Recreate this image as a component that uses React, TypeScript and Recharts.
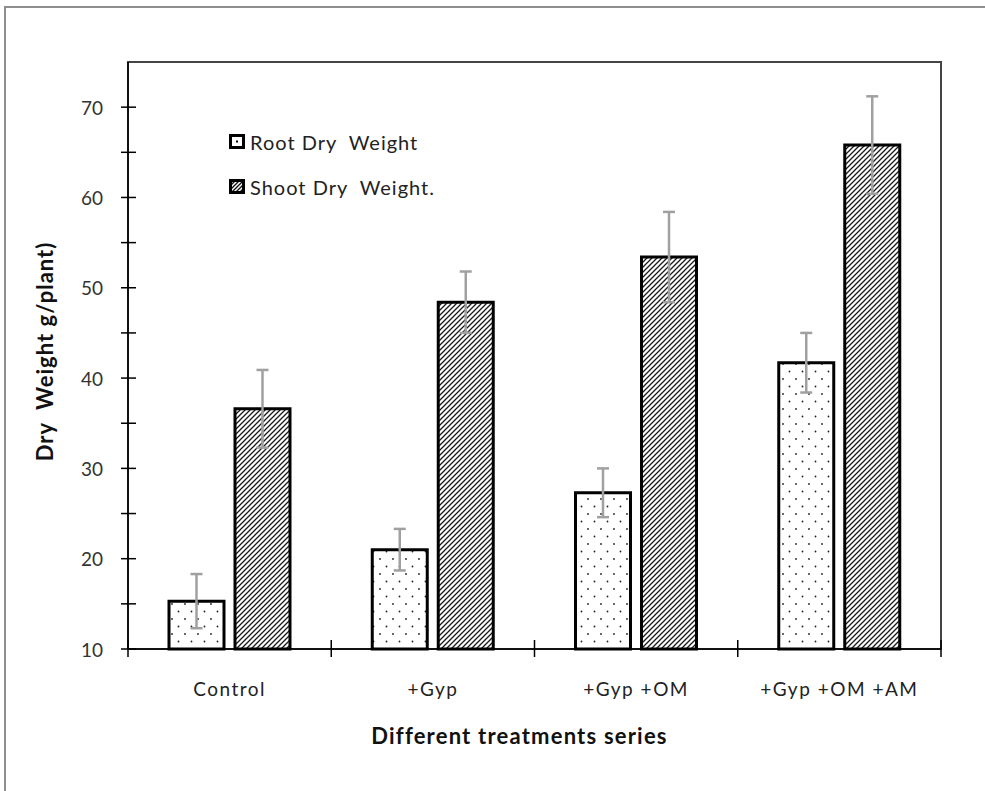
import React from 'react';
import { BarChart, Bar, XAxis, YAxis, ErrorBar, Legend, ReferenceArea, Label } from 'recharts';

const categories = ['Control', '+Gyp', '+Gyp +OM', '+Gyp +OM +AM'];
const rootDryWeight = [15.3, 21.0, 27.3, 41.7];
const rootError = [3.0, 2.3, 2.7, 3.3];
const shootDryWeight = [36.6, 48.4, 53.4, 65.8];
const shootError = [4.3, 3.4, 5.0, 5.4];
const yTicks = [10, 15, 20, 25, 30, 35, 40, 45, 50, 55, 60, 65, 70];

const data = categories.map((category, i) => ({
  category,
  root: rootDryWeight[i],
  rootErr: rootError[i],
  shoot: shootDryWeight[i],
  shootErr: shootError[i],
}));

const FONT = 'Lato, "Open Sans", sans-serif';
const Y_TICK_MARGIN = 25;
const X_TICK_MARGIN = 34;

const LegendBox = ({ kind }: { kind: string }) => (
  <svg width={16} height={15} style={{ display: 'block' }}>
    <rect x={1.5} y={1.5} width={13} height={12} fill={kind === 'shoot' ? 'url(#hatchLegend)' : '#fff'} stroke="#000" strokeWidth={3} />
    {kind === 'root' && <rect x={7} y={6.5} width={2} height={2} fill="#000" />}
  </svg>
);

const renderLegend = (props: any) => {
  const payload = props.payload || [];
  return (
    <div style={{ fontFamily: FONT }}>
      {payload.map((p: any, i: number) => (
        <div key={i} style={{ display: 'flex', alignItems: 'center', height: 45 }}>
          <LegendBox kind={p.dataKey} />
          <span style={{ marginLeft: 5, fontSize: 20, letterSpacing: 1, color: '#222', whiteSpace: 'pre' }}>{p.value}</span>
        </div>
      ))}
    </div>
  );
};

const YTick = (p: any) => {
  const v = p.payload?.value;
  const ax = p.x + Y_TICK_MARGIN;
  return (
    <g>
      <line x1={ax - 7} x2={ax + 8} y1={p.y} y2={p.y} stroke="#000" strokeWidth={1.5} />
      {v % 10 === 0 && (
        <text x={p.x} y={p.y} textAnchor="end" dominantBaseline="central"
          style={{ fill: '#333', fontSize: 19, fontFamily: FONT }}>{v}</text>
      )}
    </g>
  );
};

const XTick = (p: any) => {
  const half = p.payload?.offset || 0;
  const ay = p.y - X_TICK_MARGIN;
  const isLast = p.index === (p.visibleTicksCount || categories.length) - 1;
  return (
    <g>
      <line x1={p.x - half} x2={p.x - half} y1={ay - 9} y2={ay + 8} stroke="#000" strokeWidth={1.5} />
      {isLast && <line x1={p.x + half} x2={p.x + half} y1={ay - 9} y2={ay + 8} stroke="#000" strokeWidth={1.5} />}
      <text x={p.x} y={p.y} textAnchor="middle" dy="0.71em"
        style={{ fill: '#222', fontSize: 19, fontFamily: FONT, letterSpacing: 1.5 }}>{p.payload?.value}</text>
    </g>
  );
};

const YTitle = (props: any) => {
  const vb = props.viewBox;
  const x = vb.x - 24;
  const y = vb.y + vb.height / 2 - 4;
  return (
    <text x={x} y={y} transform={`rotate(-90, ${x}, ${y})`} textAnchor="middle" dominantBaseline="central"
      style={{ fontFamily: FONT, fontWeight: 700, fontSize: 22, letterSpacing: 1, fill: '#111', whiteSpace: 'pre' }}>
      {'Dry  Weight g/plant)'}
    </text>
  );
};

const XTitle = (props: any) => {
  const vb = props.viewBox;
  const x = vb.x + vb.width / 2 - 15;
  const y = vb.y + 86;
  return (
    <text x={x} y={y} textAnchor="middle" dominantBaseline="central"
      style={{ fontFamily: FONT, fontWeight: 700, fontSize: 22, letterSpacing: 1.2, fill: '#111' }}>
      Different treatments series
    </text>
  );
};

export default function App() {
  return (
    <div style={{ position: 'fixed', left: 0, top: 0, width: 985, height: 791, overflow: 'hidden', background: '#fff' }}>
      <div style={{ position: 'absolute', left: 4, top: 6, width: 1200, height: 1000, borderTop: '2px solid #8e8e8e', borderLeft: '2px solid #8e8e8e' }} />
      <div style={{ position: 'absolute', left: 0, top: 0 }}>
        <BarChart width={985} height={791} data={data} margin={{ top: 62, right: 44, bottom: 102, left: 68 }} barGap={11} barSize={55}>
          <defs>
            <pattern id="dots" width={13} height={15} patternUnits="userSpaceOnUse">
              <rect width={13} height={15} fill="#fff" />
              <circle cx={3} cy={4} r={0.9} fill="#222" />
              <circle cx={9.5} cy={11.5} r={0.9} fill="#222" />
            </pattern>
            <pattern id="hatch" width={5} height={5} patternUnits="userSpaceOnUse">
              <rect width={5} height={5} fill="#fff" />
              <path d="M0,5 L5,0 M-1,1 L1,-1 M4,6 L6,4" stroke="#1a1a1a" strokeWidth={1.3} />
            </pattern>
            <pattern id="hatchLegend" width={4} height={4} patternUnits="userSpaceOnUse">
              <rect width={4} height={4} fill="#fff" />
              <path d="M0,4 L4,0 M-1,1 L1,-1 M3,5 L5,3" stroke="#111" strokeWidth={1.3} />
            </pattern>
          </defs>
          <XAxis dataKey="category" height={40} tickSize={0} tickMargin={X_TICK_MARGIN}
            axisLine={{ stroke: '#000', strokeWidth: 1.5 }} tickLine={false}
            tick={<XTick />} interval={0}>
            <Label content={<XTitle />} />
          </XAxis>
          <YAxis type="number" domain={[10, 75]} ticks={yTicks} interval={0} width={60}
            tickSize={0} tickMargin={Y_TICK_MARGIN} tickLine={false}
            axisLine={{ stroke: '#000', strokeWidth: 1.5 }}
            tick={<YTick />}>
            <Label content={<YTitle />} />
          </YAxis>
          <ReferenceArea y1={10} y2={75} fill="none" stroke="#444" strokeWidth={2} ifOverflow="visible" />
          <Legend layout="vertical" align="center" verticalAlign="middle" content={renderLegend}
            wrapperStyle={{ left: 229, top: 119, width: 300, height: 90 }} />
          <Bar dataKey="root" name="Root Dry  Weight" fill="url(#dots)" stroke="#000" strokeWidth={3} isAnimationActive={false}>
            <ErrorBar dataKey="rootErr" width={6} stroke="#a0a0a0" strokeWidth={2.5} direction="y" />
          </Bar>
          <Bar dataKey="shoot" name="Shoot Dry  Weight." fill="url(#hatch)" stroke="#000" strokeWidth={3} isAnimationActive={false}>
            <ErrorBar dataKey="shootErr" width={6} stroke="#a0a0a0" strokeWidth={2.5} direction="y" />
          </Bar>
        </BarChart>
      </div>
    </div>
  );
}
